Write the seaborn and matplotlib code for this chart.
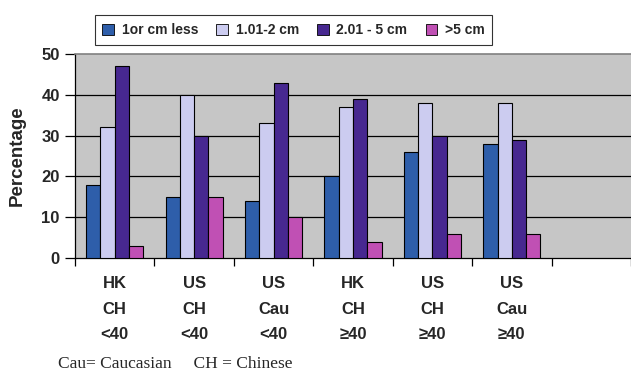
import numpy as np
import pandas as pd
import matplotlib
matplotlib.use("Agg")
import matplotlib.pyplot as plt
from matplotlib import font_manager
import seaborn as sns

groups = ["HK\nCH\n<40", "US\nCH\n<40", "US\nCau\n<40",
          "HK\nCH\n\u226540", "US\nCH\n\u226540", "US\nCau\n\u226540"]
sizes = ["1or cm less", "1.01-2 cm", "2.01 - 5 cm", ">5 cm"]
small = [18, 15, 14, 20, 26, 28]      # 1 cm or less
mid = [32, 40, 33, 37, 38, 38]        # 1.01-2 cm
large = [47, 30, 43, 39, 30, 29]      # 2.01-5 cm
xlarge = [3, 15, 10, 4, 6, 6]         # >5 cm
y_ticks = [0, 10, 20, 30, 40, 50]

colors = ["#2E5EAA", "#CCCCF0", "#472890", "#C050B4"]

rows = []
for name, vals in zip(sizes, [small, mid, large, xlarge]):
    for g, v in zip(groups, vals):
        rows.append({"group": g, "size": name, "pct": v})
df = pd.DataFrame(rows)

# pick a sans family that really has a bold face
sans = "DejaVu Sans"
for fam in ["Liberation Sans", "Arimo", "Roboto", "Inter", "Noto Sans"]:
    try:
        path = font_manager.findfont(
            font_manager.FontProperties(family=fam, weight="bold"),
            fallback_to_default=False)
        if "bold" in path.lower():
            sans = fam
            break
    except Exception:
        pass

sns.set_theme(style="white")
plt.rcParams["font.family"] = [sans, "DejaVu Sans"]

bold = {"weight": "bold", "family": [sans, "DejaVu Sans"]}

fig = plt.figure(figsize=(6.31, 3.73), dpi=100)
ax = fig.add_axes([75 / 631, 1 - 258 / 373, 556 / 631, 204 / 373])
ax.set_facecolor("#C6C6C6")

order = groups + [" "]
sns.barplot(data=df, x="group", y="pct", hue="size", order=order,
            hue_order=sizes, palette=colors, saturation=1, width=0.72,
            edgecolor="black", linewidth=0.8, ax=ax, legend=True,
            zorder=3)

ax.set_ylim(0, 50)
ax.set_xlim(-0.5, 6.5)
ax.set_yticks(y_ticks)
ax.set_yticklabels([str(t) for t in y_ticks], fontsize=12, **bold)
for t in y_ticks[1:-1]:
    ax.axhline(t, color="black", lw=0.9, zorder=1)

# category labels at slot centres, tick marks at slot boundaries
ax.set_xticks(range(6))
ax.set_xticklabels(groups, fontsize=12, linespacing=1.88, **bold)
ax.set_xticks(np.arange(-0.5, 7.0, 1.0), minor=True)
ax.tick_params(axis="x", which="major", length=0, pad=13)
ax.tick_params(axis="x", which="minor", length=6, width=0.9,
               color="black", direction="out", bottom=True)
ax.tick_params(axis="y", length=7, width=0.9, color="black",
               direction="out", left=True, pad=4)

ax.set_xlabel("")
ax.set_ylabel("Percentage", fontsize=13.5, **bold)
ax.yaxis.set_label_coords(-0.088, 0.5)

for side in ["left", "bottom"]:
    ax.spines[side].set_color("black")
    ax.spines[side].set_linewidth(0.9)
ax.spines["top"].set_color("#808080")
ax.spines["top"].set_linewidth(1.2)
ax.spines["right"].set_visible(False)

leg = ax.legend(loc="center", bbox_to_anchor=(293.5 / 631, 1 - 30 / 373),
                bbox_transform=fig.transFigure, ncol=4, frameon=True,
                fancybox=False, edgecolor="black", handlelength=0.85,
                handleheight=0.85, handletextpad=0.55, columnspacing=1.3,
                borderpad=0.55, prop={"weight": "bold", "size": 10,
                                      "family": [sans, "DejaVu Sans"]})
leg.get_frame().set_linewidth(0.8)
for h in leg.legend_handles:
    h.set_edgecolor("black")
    h.set_linewidth(0.6)

fig.text(58 / 631, 1 - 364 / 373, "Cau= Caucasian     CH = Chinese",
         fontsize=12.5, family=["Liberation Serif", "DejaVu Serif"],
         va="center", ha="left")

fig.savefig("out.png", dpi=100)
